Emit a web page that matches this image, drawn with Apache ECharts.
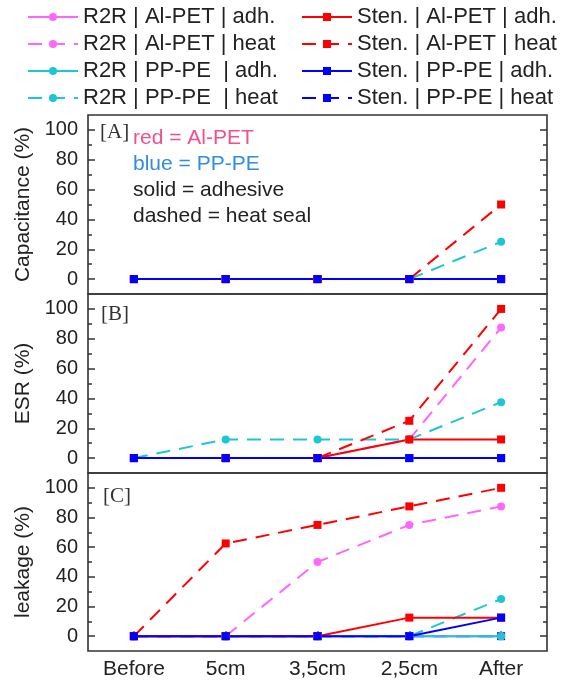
<!DOCTYPE html>
<html>
<head>
<meta charset="utf-8">
<script src="https://cdn.jsdelivr.net/npm/echarts@6/dist/echarts.min.js"></script>
<style>
  html, body { margin: 0; padding: 0; background: #fff; }
  #chart { width: 570px; height: 681px; }
</style>
</head>
<body>
<div id="chart"></div>
<script>
var stages = ["Before", "5cm", "3,5cm", "2,5cm", "After"];

var seriesNames = [
  "R2R | Al-PET | adh.",
  "R2R | Al-PET | heat",
  "R2R | PP-PE  | adh.",
  "R2R | PP-PE  | heat",
  "Sten. | Al-PET | adh.",
  "Sten. | Al-PET | heat",
  "Sten. | PP-PE | adh.",
  "Sten. | PP-PE | heat"
];

var yTickValues = [0, 20, 40, 60, 80, 100];
var yMinorValues = [10, 30, 50, 70, 90];

// rows follow seriesNames order
var capacitance = [
  [0, 0, 0, 0, 0],
  [0, 0, 0, 0, 0],
  [0, 0, 0, 0, 0],
  [0, 0, 0, 0, 25],
  [0, 0, 0, 0, 0],
  [0, 0, 0, 0, 50],
  [0, 0, 0, 0, 0],
  [0, 0, 0, 0, 0]
];

var esr = [
  [0, 0, 0, 0, 0],
  [0, 0, 0, 12.5, 87.5],
  [0, 0, 0, 0, 0],
  [0, 12.5, 12.5, 12.5, 37.5],
  [0, 0, 0, 12.5, 12.5],
  [0, 0, 0, 25, 100],
  [0, 0, 0, 0, 0],
  [0, 0, 0, 0, 0]
];

var leakage = [
  [0, 0, 0, 0, 0],
  [0, 0, 50, 75, 87.5],
  [0, 0, 0, 0, 0],
  [0, 0, 0, 0, 25],
  [0, 0, 0, 12.5, 12.5],
  [0, 62.5, 75, 87.5, 100],
  [0, 0, 0, 0, 12.5],
  [0, 0, 0, 0, 0]
];

var panels = [capacitance, esr, leakage];
var panelNames = ["Capacitance (%)", "ESR (%)", "leakage (%)"];
var panelTags = ["[A]", "[B]", "[C]"];

var colors = ["#ff66ff", "#ff66ff", "#1cc6d4", "#1cc6d4", "#ff0000", "#ff0000", "#0000ff", "#0000ff"];
var dashed = [false, true, false, true, false, true, false, true];
var symbols = ["circle", "circle", "circle", "circle", "rect", "rect", "rect", "rect"];
// which series sits on top: blue solid last
var drawOrder = [7, 0, 2, 1, 3, 5, 4, 6];

var font = "'Liberation Sans', Arial, sans-serif";
var gridTops = [115, 294, 473];
var gridHeights = [179, 179, 178];

var grids = [], xAxes = [], yAxes = [], series = [];

for (var p = 0; p < 3; p++) {
  grids.push({
    left: 88, right: 23, top: gridTops[p], height: gridHeights[p],
    show: true, borderColor: "#333", borderWidth: 1.6, backgroundColor: "transparent"
  });
  xAxes.push({
    gridIndex: p, type: "category", data: stages, boundaryGap: true,
    axisLine: { show: false },
    axisTick: { show: p === 2, inside: true, alignWithLabel: true, length: 5, lineStyle: { color: "#333", width: 1.5 } },
    axisLabel: { show: p === 2, fontSize: 21, fontFamily: font, color: "#222", margin: 8 },
    splitLine: { show: false }
  });
  var base = yAxes.length;
  var sides = ["left", "left", "right", "right"];
  for (var k = 0; k < 4; k++) {
    var major = k % 2 === 0;
    var ax = {
      gridIndex: p, type: "value", min: -10, max: 110, position: sides[k],
      axisLine: { show: false },
      splitLine: { show: false },
      axisTick: {
        show: true, inside: true, length: major ? 7 : 4,
        customValues: major ? yTickValues : yMinorValues,
        lineStyle: { color: "#333", width: 1.5 }
      },
      axisLabel: { show: false }
    };
    if (k === 0) {
      ax.axisLabel = { show: true, customValues: yTickValues, fontSize: 20, fontFamily: font, color: "#222", margin: 10 };
      ax.name = panelNames[p];
      ax.nameLocation = "middle";
      ax.nameGap = 49;
      ax.nameTextStyle = { fontSize: 21, fontFamily: font, color: "#222" };
    }
    yAxes.push(ax);
  }
  drawOrder.forEach(function (i) {
    series.push({
      name: seriesNames[i],
      type: "line",
      xAxisIndex: p,
      yAxisIndex: base,
      data: panels[p][i],
      symbol: symbols[i],
      symbolSize: 8,
      showSymbol: true,
      itemStyle: { color: colors[i] },
      lineStyle: { color: colors[i], width: 2, type: dashed[i] ? [14, 9] : "solid" },
      animation: false
    });
  });
}

var legendText = { fontSize: 22, fontFamily: font, color: "#222", lineHeight: 21 };

var graphics = [
  { type: "text", left: 100, top: 122, style: { text: panelTags[0], font: "21px 'Liberation Serif', serif", fill: "#333" } },
  { type: "text", left: 101, top: 304, style: { text: panelTags[1], font: "21px 'Liberation Serif', serif", fill: "#333" } },
  { type: "text", left: 103, top: 486, style: { text: panelTags[2], font: "21px 'Liberation Serif', serif", fill: "#333" } },
  { type: "text", left: 133, top: 128, style: { text: "red = Al-PET", font: "21px " + font, fill: "#f64d8b" } },
  { type: "text", left: 133, top: 154, style: { text: "blue = PP-PE", font: "21px " + font, fill: "#2f8ee3" } },
  { type: "text", left: 133, top: 180, style: { text: "solid = adhesive", font: "21px " + font, fill: "#222" } },
  { type: "text", left: 133, top: 206, style: { text: "dashed = heat seal", font: "21px " + font, fill: "#222" } }
];

var chart = echarts.init(document.getElementById("chart"));
chart.setOption({
  animation: false,
  backgroundColor: "#fff",
  legend: [
    {
      data: seriesNames.slice(0, 4), orient: "vertical", left: 27, top: 6, padding: 0,
      itemWidth: 50, itemHeight: 10, itemGap: 5, selectedMode: false, textStyle: legendText
    },
    {
      data: seriesNames.slice(4), orient: "vertical", left: 301, top: 6, padding: 0,
      itemWidth: 50, itemHeight: 10, itemGap: 5, selectedMode: false, textStyle: legendText
    }
  ],
  grid: grids,
  xAxis: xAxes,
  yAxis: yAxes,
  series: series,
  graphic: graphics
});
</script>
</body>
</html>
